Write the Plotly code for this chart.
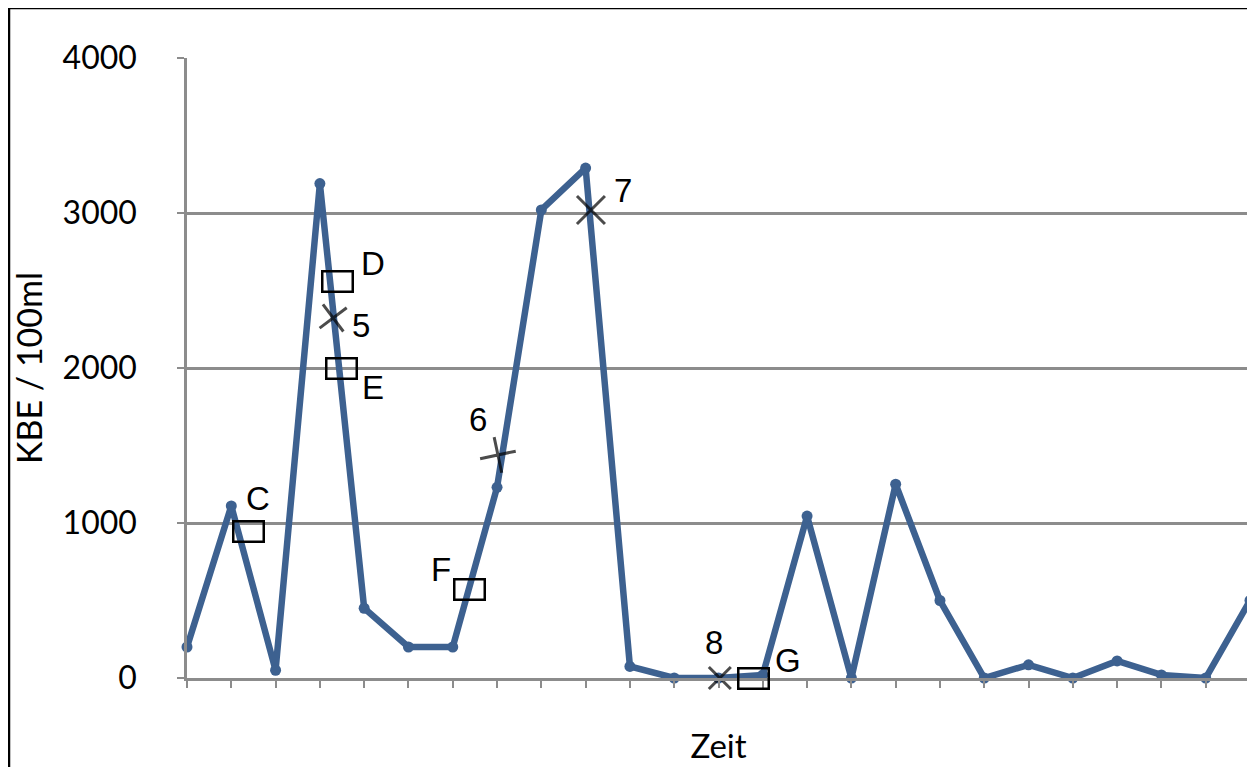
import plotly.graph_objects as go

# Data series (index = time step)
time_idx = list(range(25))
kbe = [200, 1110, 50, 3190, 450, 200, 200, 1230, 3020, 3290, 75, 0, 0, 20,
       1045, 0, 1250, 500, 0, 85, 0, 110, 20, 0, 500]

# Cross markers (sampling points 5-8)
mark_names = ["5", "6", "7", "8"]
mark_x = [3.30, 7.02, 9.12, 12.03]
mark_y = [2323, 1439, 3019, 0]
mark_symbols = ["x-thin", "cross-thin", "x-thin", "x-thin"]
mark_angles = [8, -12, 0, 0]
mark_sizes = [24, 26, 28, 22]

# Box markers (C-G)
box_names = ["C", "D", "E", "F", "G"]
box_x = [1.38, 3.39, 3.48, 6.37, 12.78]
box_y = [948, 2555, 2000, 568, 0]

# Label text positions
label_text = ["C", "D", "5", "E", "6", "F", "7", "8", "G"]
label_x = [1.60, 4.20, 3.93, 4.20, 6.57, 5.73, 9.84, 11.90, 13.57]
label_y = [1155, 2677, 2277, 1877, 1665, 697, 3142, 232, 116]

y_ticks = [0, 1000, 2000, 3000, 4000]

LINE = "#3D6190"
GRID = "#8C8C8C"

# page body has an 8px margin -> figure drawn from (8, 8)
W, H = 1247, 759
L, T = 179, 50
PW = 1242 - L            # plot width (px)
PH = 670 - T             # plot height (px)

def px_x(px):
    return (px - L) / PW

def px_y(py):
    return (T + PH - py) / PH

fig = go.Figure()
fig.add_trace(go.Scatter(
    x=time_idx, y=kbe, mode="lines+markers",
    line=dict(color=LINE, width=6.5),
    marker=dict(color=LINE, size=11),
    cliponaxis=False, showlegend=False, hoverinfo="skip"))

fig.add_trace(go.Scatter(
    x=mark_x, y=mark_y, mode="markers",
    marker=dict(symbol=mark_symbols, angle=mark_angles, size=mark_sizes,
                color="black", line=dict(color="black", width=3)),
    cliponaxis=False, showlegend=False, hoverinfo="skip"))

shapes = []
# outer chart border (left, top, right)
shapes.append(dict(type="line", xref="paper", yref="paper",
                   x0=px_x(1), x1=px_x(1), y0=px_y(0), y1=px_y(H + 5),
                   line=dict(color="black", width=2.5)))
shapes.append(dict(type="line", xref="paper", yref="paper",
                   x0=px_x(0), x1=px_x(W), y0=px_y(0), y1=px_y(0),
                   line=dict(color="black", width=2.5)))
shapes.append(dict(type="line", xref="paper", yref="paper",
                   x0=px_x(1246), x1=px_x(1246), y0=px_y(0), y1=px_y(H + 5),
                   line=dict(color="#D0D0D0", width=1.5)))

annotations = []
# boxes (annotations are not clipped by the plot area)
for bx, by in zip(box_x, box_y):
    annotations.append(dict(x=bx, y=by, xref="x", yref="y", text=" ",
                            showarrow=False, width=28, height=18,
                            borderpad=0, bordercolor="black", borderwidth=2.5,
                            bgcolor="rgba(0,0,0,0)",
                            font=dict(size=10)))
for t, lx, ly in zip(label_text, label_x, label_y):
    annotations.append(dict(x=lx, y=ly, xref="x", yref="y", text=t,
                            showarrow=False,
                            font=dict(family="Liberation Sans", size=33, color="black")))

fig.update_layout(
    width=W, height=H,
    margin=dict(l=L, r=W - 1242, t=T, b=H - 670, pad=0),
    paper_bgcolor="white", plot_bgcolor="white",
    shapes=shapes, annotations=annotations,
    xaxis=dict(range=[0, 24], tickvals=time_idx, ticktext=[""] * 25,
               showgrid=False, zeroline=False,
               showline=True, linecolor=GRID, linewidth=2.5,
               ticks="outside", ticklen=7, tickwidth=2, tickcolor=GRID,
               title=dict(text="Zeit", standoff=46,
                          font=dict(family="Lato", size=33, color="black"))),
    yaxis=dict(range=[0, 4000], tickvals=y_ticks,
               ticktext=[str(v) for v in y_ticks],
               showgrid=True, gridcolor=GRID, gridwidth=2.5,
               zeroline=False, showline=True, linecolor=GRID, linewidth=2.5,
               ticks="outside", ticklen=7, tickwidth=2, tickcolor=GRID,
               ticklabelstandoff=34,
               tickfont=dict(family="Lato", size=32, color="black"),
               title=dict(text="KBE / 100ml", standoff=24,
                          font=dict(family="Lato", size=34, color="black"))),
)

fig.write_html("out.html")
